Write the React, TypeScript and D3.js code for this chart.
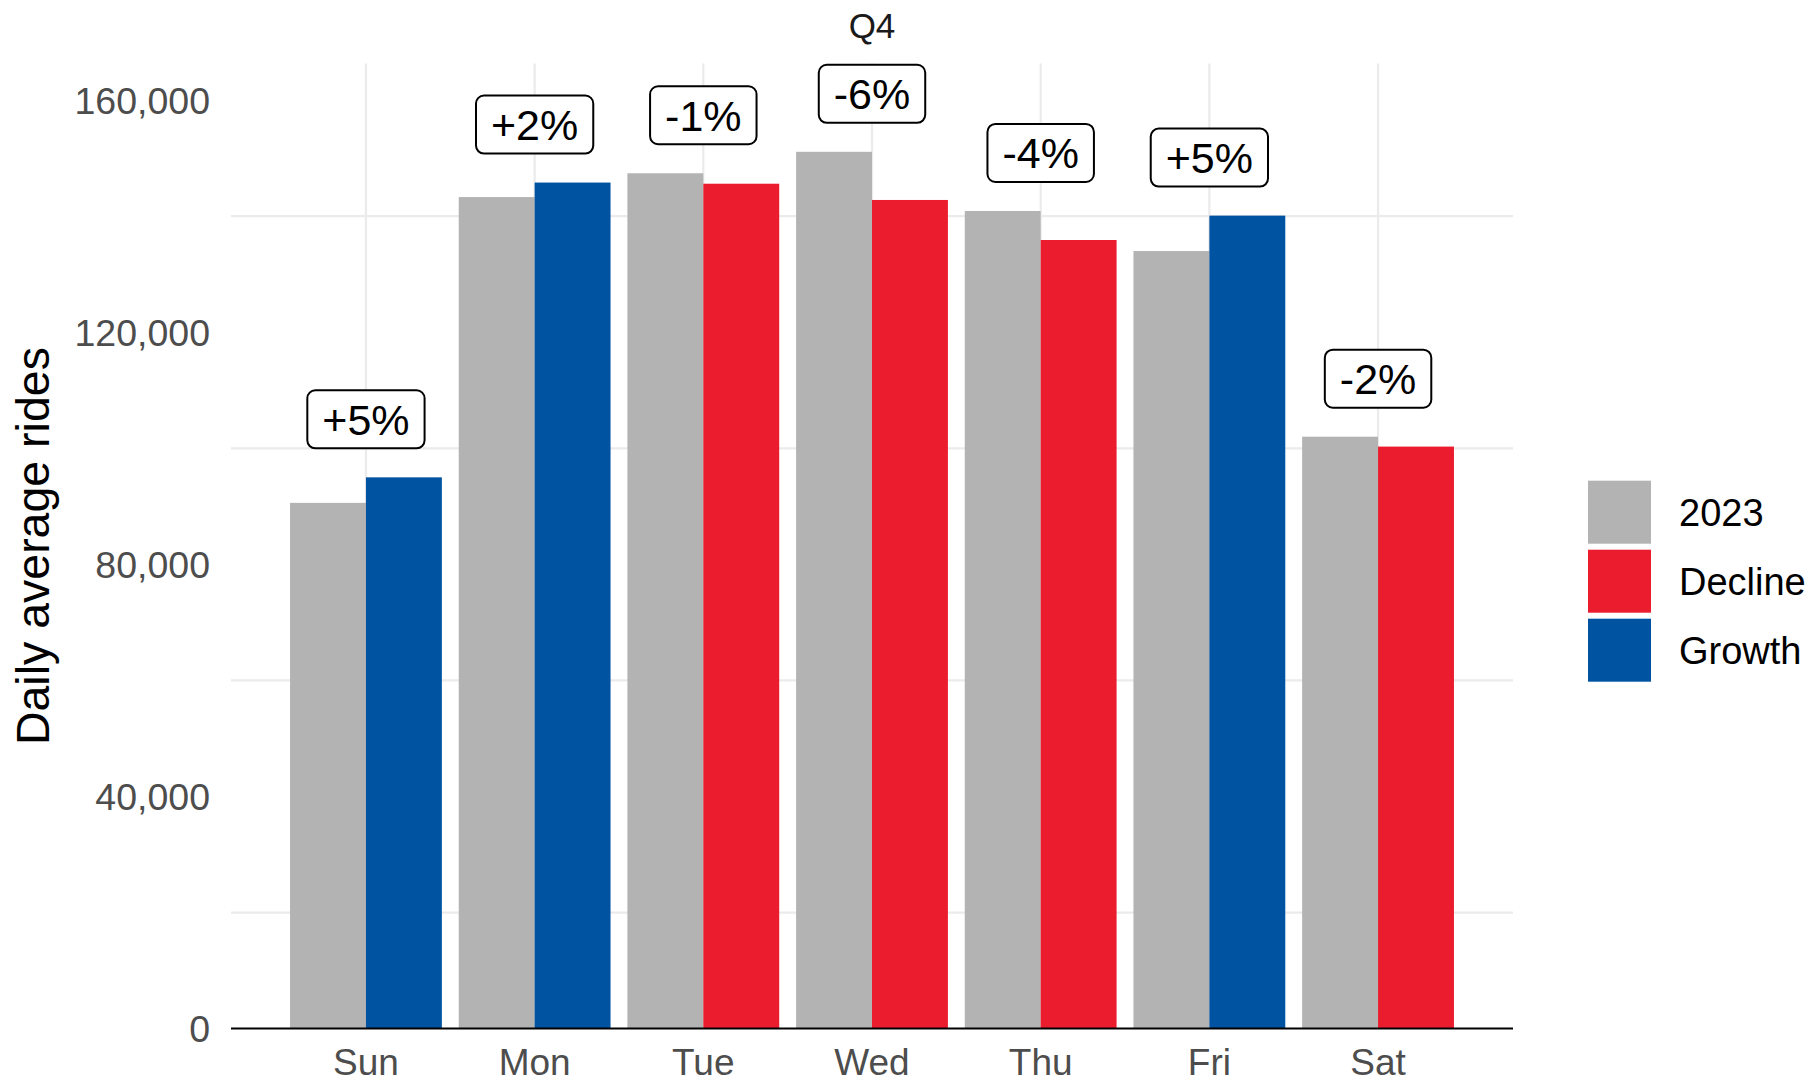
import React, { useEffect, useRef } from "react";
import * as d3 from "d3";

const days = ["Sun", "Mon", "Tue", "Wed", "Thu", "Fri", "Sat"];
const rides2023 = [90600, 143300, 147400, 151100, 140900, 134000, 102000];
const rides2024 = [95000, 145800, 145600, 142800, 135900, 140100, 100300];
const changeLabels = ["+5%", "+2%", "-1%", "-6%", "-4%", "+5%", "-2%"];
const yTicks = [0, 40000, 80000, 120000, 160000];
const gridTicks = [20000, 60000, 100000, 140000];
const legendLabels = ["2023", "Decline", "Growth"];

const colors: Record<string, string> = {
  "2023": "#B3B3B3",
  Decline: "#EC1C2F",
  Growth: "#0053A1",
};

const W = 1811;
const H = 1084;
const FONT = "'Liberation Sans', Arial, Helvetica, sans-serif";

export default function App() {
  const ref = useRef<SVGSVGElement>(null);

  useEffect(() => {
    const svg = d3.select(ref.current);
    svg.selectAll("*").remove();

    const left = 231,
      right = 1513,
      top = 63.6,
      bottom = 1028.6;

    const x = d3
      .scaleBand()
      .domain(days)
      .range([left, right])
      .paddingInner(0.1)
      .paddingOuter(0.35);

    const xSub = d3
      .scaleBand()
      .domain(["2023", "2024"])
      .range([0, x.bandwidth()]);

    const y = d3.scaleLinear().domain([0, 166300]).range([bottom, top]);

    const data = days.map((d, i) => ({
      day: d,
      v2023: rides2023[i],
      v2024: rides2024[i],
      label: changeLabels[i],
    }));

    // grid
    svg
      .append("g")
      .selectAll("line")
      .data(gridTicks)
      .join("line")
      .attr("x1", left)
      .attr("x2", right)
      .attr("y1", (d) => y(d))
      .attr("y2", (d) => y(d))
      .attr("stroke", "#EBEBEB")
      .attr("stroke-width", 2.2);

    svg
      .append("g")
      .selectAll("line")
      .data(days)
      .join("line")
      .attr("x1", (d) => x(d)! + x.bandwidth() / 2)
      .attr("x2", (d) => x(d)! + x.bandwidth() / 2)
      .attr("y1", top)
      .attr("y2", bottom)
      .attr("stroke", "#EBEBEB")
      .attr("stroke-width", 2.2);

    // bars
    const groups = svg
      .append("g")
      .selectAll("g")
      .data(data)
      .join("g")
      .attr("transform", (d) => `translate(${x(d.day)},0)`);

    groups
      .append("rect")
      .attr("x", xSub("2023")!)
      .attr("width", xSub.bandwidth())
      .attr("y", (d) => y(d.v2023))
      .attr("height", (d) => y(0) - y(d.v2023))
      .attr("fill", colors["2023"]);

    groups
      .append("rect")
      .attr("x", xSub("2024")!)
      .attr("width", xSub.bandwidth())
      .attr("y", (d) => y(d.v2024))
      .attr("height", (d) => y(0) - y(d.v2024))
      .attr("fill", (d) =>
        d.v2024 >= d.v2023 ? colors.Growth : colors.Decline
      );

    // axis baseline
    svg
      .append("line")
      .attr("x1", left)
      .attr("x2", right)
      .attr("y1", y(0))
      .attr("y2", y(0))
      .attr("stroke", "#000")
      .attr("stroke-width", 2);

    // change labels
    const labels = groups
      .append("g")
      .attr(
        "transform",
        (d) =>
          `translate(${x.bandwidth() / 2},${y(Math.max(d.v2023, d.v2024) + 10000)})`
      );
    labels.each(function (d) {
      const g = d3.select(this);
      const txt = g
        .append("text")
        .attr("text-anchor", "middle")
        .attr("y", 15.5)
        .attr("font-family", FONT)
        .attr("font-size", 43)
        .attr("fill", "#000")
        .text(d.label);
      const w = (txt.node() as SVGTextElement).getComputedTextLength() + 30;
      g.insert("rect", "text")
        .attr("x", -w / 2)
        .attr("y", -29)
        .attr("width", w)
        .attr("height", 58)
        .attr("rx", 8)
        .attr("fill", "#fff")
        .attr("stroke", "#000")
        .attr("stroke-width", 2);
    });

    // y tick labels
    svg
      .append("g")
      .selectAll("text")
      .data(yTicks)
      .join("text")
      .attr("x", 210)
      .attr("y", (d) => y(d))
      .attr("dy", "0.36em")
      .attr("text-anchor", "end")
      .attr("font-family", FONT)
      .attr("font-size", 37.5)
      .attr("fill", "#4D4D4D")
      .text((d) => d3.format(",")(d));

    // x tick labels
    svg
      .append("g")
      .selectAll("text")
      .data(days)
      .join("text")
      .attr("x", (d) => x(d)! + x.bandwidth() / 2)
      .attr("y", 1075)
      .attr("text-anchor", "middle")
      .attr("font-family", FONT)
      .attr("font-size", 37)
      .attr("fill", "#4D4D4D")
      .text((d) => d);

    // y axis title
    svg
      .append("text")
      .attr("transform", `translate(49,${(top + bottom) / 2}) rotate(-90)`)
      .attr("text-anchor", "middle")
      .attr("font-family", FONT)
      .attr("font-size", 46.5)
      .attr("fill", "#000")
      .text("Daily average rides");

    // title
    svg
      .append("text")
      .attr("x", x("Wed")! + x.bandwidth() / 2)
      .attr("y", 38)
      .attr("text-anchor", "middle")
      .attr("font-family", FONT)
      .attr("font-size", 35)
      .attr("fill", "#1A1A1A")
      .text("Q4");

    // legend
    const legend = svg
      .append("g")
      .selectAll("g")
      .data(legendLabels)
      .join("g")
      .attr("transform", (_, i) => `translate(1588,${480.7 + i * 69})`);
    legend
      .append("rect")
      .attr("width", 63)
      .attr("height", 63)
      .attr("fill", (d) => colors[d]);
    legend
      .append("text")
      .attr("x", 91)
      .attr("y", 31.5)
      .attr("dy", "0.36em")
      .attr("font-family", FONT)
      .attr("font-size", 38)
      .attr("fill", "#000")
      .text((d) => d);
  }, []);

  return (
    <svg
      ref={ref}
      width={W}
      height={H}
      style={{ position: "absolute", left: 0, top: 0, background: "#fff" }}
    />
  );
}
